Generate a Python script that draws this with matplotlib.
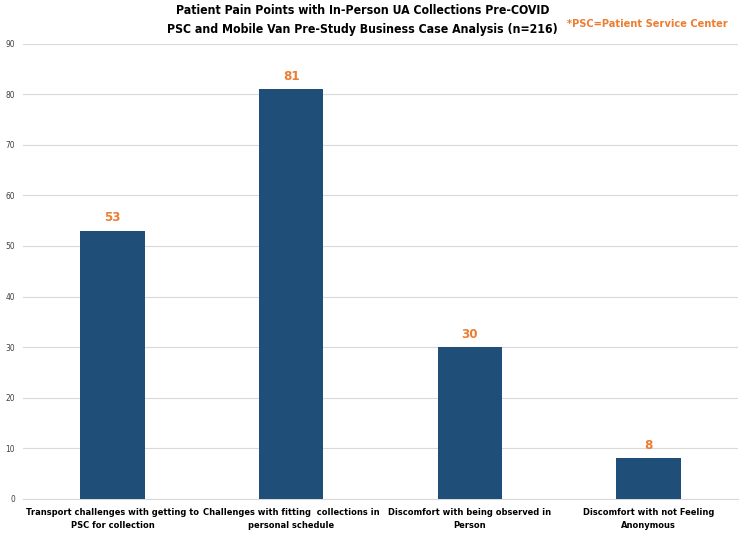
import matplotlib.pyplot as plt
import numpy as np

plt.rcParams['font.family'] = ['DejaVu Sans']
plt.rcParams['font.stretch'] = 'condensed'

categories = ['Transport challenges with getting to\nPSC for collection',
              'Challenges with fitting  collections in\npersonal schedule',
              'Discomfort with being observed in\nPerson',
              'Discomfort with not Feeling\nAnonymous']
values = [53, 81, 30, 8]

fig = plt.figure(figsize=(7.5, 5.34), dpi=100)
ax = fig.add_axes([0.031, 0.066, 0.953, 0.852])

x = np.arange(len(categories))
ax.bar(x, values, width=0.36, color='#1F4E79', zorder=3)
for xi, v in zip(x, values):
    ax.text(xi, v + 1.3, str(v), ha='center', va='bottom', color='#ED7D31',
            fontsize=9.5, fontweight='bold')

ax.set_xlim(-0.5, len(categories) - 0.5)
ax.set_ylim(0, 90)
ax.set_yticks(range(0, 91, 10))
ax.yaxis.grid(True, color='#D9D9D9', linewidth=0.8, zorder=0)
ax.set_xticks(x)
ax.set_xticklabels(categories, fontsize=6.7, fontweight='bold', linespacing=1.45)
ax.tick_params(axis='y', labelsize=6, length=0, colors='#404040', pad=6)
ax.tick_params(axis='x', length=0, pad=7)
for s in ['top', 'right', 'left']:
    ax.spines[s].set_visible(False)
ax.spines['bottom'].set_color('#D9D9D9')

fig.text(0.483, 0.993, 'Patient Pain Points with In-Person UA Collections Pre-COVID\n'
         'PSC and Mobile Van Pre-Study Business Case Analysis (n=216)',
         ha='center', va='top', fontsize=8.8, fontweight='bold', linespacing=1.6)
fig.text(0.756, 0.955, '*PSC=Patient Service Center', ha='left', va='center',
         fontsize=7.9, fontweight='bold', color='#ED7D31')

fig.savefig('out.png', dpi=100)
